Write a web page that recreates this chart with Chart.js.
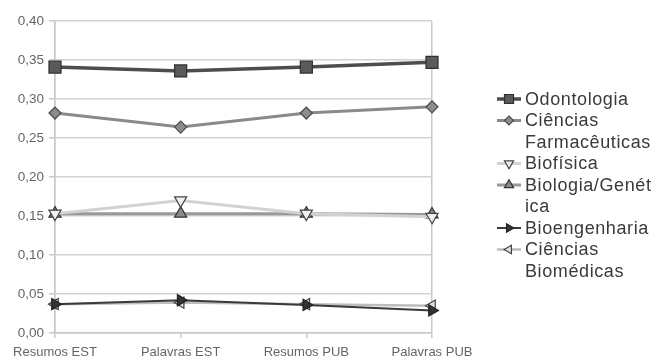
<!DOCTYPE html>
<html><head><meta charset="utf-8">
<script src="https://cdn.jsdelivr.net/npm/chart.js@4/dist/chart.umd.min.js"></script>
<style>html,body{margin:0;padding:0;background:#fff;}#wrap{width:658px;height:359px;position:relative;}</style>
</head><body><div id="wrap"><canvas id="c" width="658" height="359"></canvas></div>
<script>
const categories = ["Resumos EST", "Palavras EST", "Resumos PUB", "Palavras PUB"];
const seriesNames = ["Odontologia", "Ciências Farmacêuticas", "Biofísica", "Biologia/Genética", "Bioengenharia", "Ciências Biomédicas"];
const legendLines = [["Odontologia"], ["Ciências", "Farmacêuticas"], ["Biofísica"], ["Biologia/Genét", "ica"], ["Bioengenharia"], ["Ciências", "Biomédicas"]];
const odontologia = [0.341, 0.336, 0.341, 0.347];
const farmaceuticas = [0.282, 0.264, 0.282, 0.290];
const biofisica = [0.153, 0.170, 0.153, 0.149];
const biologiaGenetica = [0.153, 0.153, 0.153, 0.152];
const bioengenharia = [0.037, 0.042, 0.036, 0.029];
const biomedicas = [0.037, 0.039, 0.037, 0.035];
const yTickLabels = ["0,00", "0,05", "0,10", "0,15", "0,20", "0,25", "0,30", "0,35", "0,40"];

const styles = [
  {line:'#4d4d4d', w:3.5, bg:'#5a5a5a', bd:'#2e2e2e', ps:'rect', r:8.5, rot:0},
  {line:'#8a8a8a', w:3, bg:'#8c8c8c', bd:'#4a4a4a', ps:'rectRot', r:6, rot:0},
  {line:'#d2d2d2', w:3, bg:'#f0f0f0', bd:'#444', ps:'triangle', r:7, rot:180},
  {line:'#999999', w:3, bg:'#8a8a8a', bd:'#333', ps:'triangle', r:7, rot:0},
  {line:'#3a3a3a', w:2, bg:'#333', bd:'#222', ps:'triangle', r:6.5, rot:90},
  {line:'#bdbdbd', w:2.5, bg:'#e0e0e0', bd:'#444', ps:'triangle', r:6.5, rot:270}
];
const values = [odontologia, farmaceuticas, biofisica, biologiaGenetica, bioengenharia, biomedicas];

const datasets = values.map((v,i)=>({
  label: seriesNames[i], data: v,
  borderColor: styles[i].line, borderWidth: styles[i].w,
  pointStyle: styles[i].ps, pointRadius: styles[i].r, pointRotation: styles[i].rot,
  pointBackgroundColor: styles[i].bg, pointBorderColor: styles[i].bd, pointBorderWidth: 1.2,
  tension: 0, fill: false
}));

const legendPlugin = {
  id: 'customLegend',
  afterDraw(chart) {
    const ctx = chart.ctx;
    ctx.save();
    let y = 99;
    const lh = 21.5;
    chart.data.datasets.forEach((ds, i) => {
      const s = styles[i];
      ctx.strokeStyle = s.line; ctx.lineWidth = s.w;
      ctx.beginPath(); ctx.moveTo(497, y); ctx.lineTo(521, y); ctx.stroke();
      ctx.fillStyle = s.bg; ctx.strokeStyle = s.bd; ctx.lineWidth = 1.2;
      Chart.helpers.drawPoint(ctx, {pointStyle: s.ps, rotation: s.rot, radius: s.r*0.75, borderWidth: 1.2}, 509, y);
      ctx.fillStyle = '#3a3a3a';
      ctx.font = '18px "Liberation Sans", Arial, sans-serif';
      try { ctx.letterSpacing = '0.6px'; } catch(e) {}
      ctx.textBaseline = 'middle'; ctx.textAlign = 'left';
      legendLines[i].forEach((t) => { ctx.fillText(t, 525, y + 1); y += lh; });
    });
    ctx.restore();
  }
};

new Chart(document.getElementById('c'), {
  type: 'line',
  data: { labels: categories, datasets: datasets },
  options: {
    responsive: false, animation: false,
    layout: { padding: { left: 0, right: 226, top: 21, bottom: 0 } },
    plugins: { legend: { display: false }, tooltip: { enabled: false } },
    scales: {
      x: {
        offset: false,
        grid: { drawOnChartArea: true, tickLength: 5, lineWidth: 1.5,
          color: (c) => (c.index === 0 || c.index === categories.length - 1) ? '#c8c8c8' : 'rgba(0,0,0,0)',
          tickColor: '#c8c8c8' },
        border: { display: true, color: '#c8c8c8', width: 1.5 },
        ticks: { color: '#666', font: { family: '"Liberation Sans", Arial, sans-serif', size: 13 }, padding: 7, maxRotation: 0, autoSkip: false },
        afterFit: (a) => { a.height = 26; }
      },
      y: {
        min: 0, max: 0.4,
        grid: { color: '#d2d2d2', lineWidth: 1.5, tickLength: 6, tickColor: '#c8c8c8' },
        border: { display: true, color: '#c8c8c8', width: 1.5 },
        ticks: { stepSize: 0.05, color: '#666', padding: 5,
          font: { family: '"Liberation Sans", Arial, sans-serif', size: 13.5 },
          callback: (v, i) => yTickLabels[i] },
        afterFit: (a) => { a.width = 55; }
      }
    }
  },
  plugins: [legendPlugin]
});
</script></body></html>
